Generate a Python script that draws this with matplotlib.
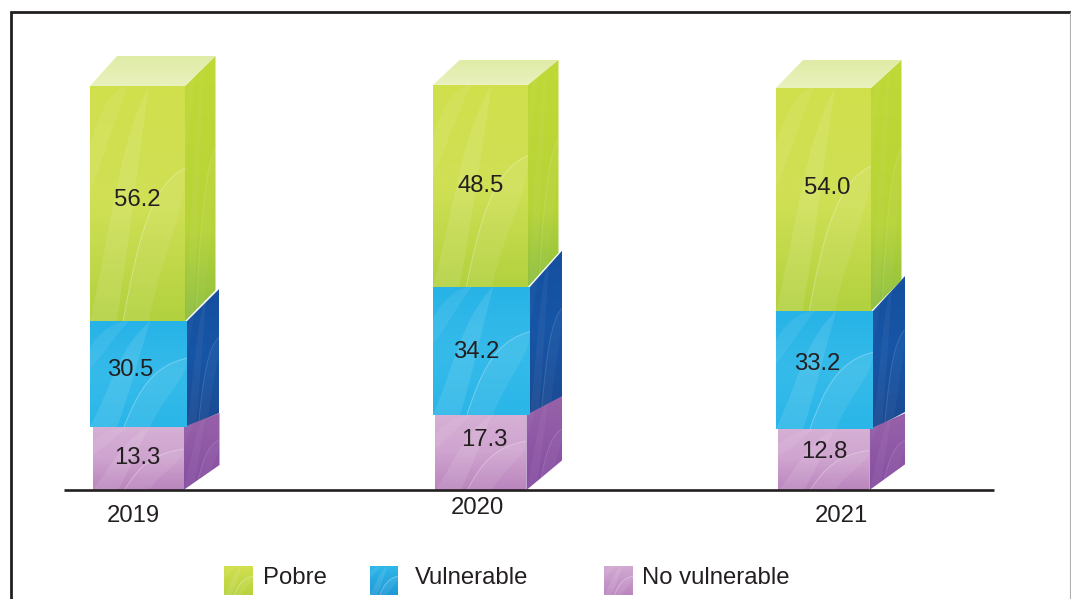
import numpy as np
import matplotlib
matplotlib.use("Agg")
import matplotlib.pyplot as plt
from matplotlib.colors import LinearSegmentedColormap
from matplotlib.patches import Polygon, PathPatch
from matplotlib.path import Path

plt.rcParams['font.family'] = ['Liberation Sans', 'DejaVu Sans']

years = ['2019', '2020', '2021']
series = ['Pobre', 'Vulnerable', 'No vulnerable']
# printed labels
pobre_labels = [56.2, 48.5, 54.0]
vulnerable_labels = [30.5, 34.2, 33.2]
no_vulnerable_labels = [13.3, 17.3, 12.8]
# drawn block heights (the blocks are not to scale with the labels)
pobre_drawn = [58.2, 50.0, 55.2]
vulnerable_drawn = [26.2, 31.7, 29.2]
no_vulnerable_drawn = [15.6, 18.6, 15.1]

# ---- layout (pixels) ----
W, H = 1071, 599
X0, DX = 137.0, 343.0     # pixel of first category, pixels per category
Y0, DY = 490.0, 4.04      # baseline pixel, pixels per unit
FS = 17.2
fig = plt.figure(figsize=(W / 100, H / 100), dpi=100)
ax = fig.add_axes([0, 0, 1, 1])
XLIM = (-X0 / DX, (W - X0) / DX)
YLIM = ((Y0 - H) / DY, Y0 / DY)
ax.axis('off')


def px(x, y):
    return ((x - X0) / DX, (Y0 - y) / DY)


style = {
    'Pobre': dict(shift=0.5, width=95, depth=30.5, dtop=[-30, -25, -28], dbot=[-31, -34, -31],
                  zside=6, zfront=6.5,
                  front=('#d0df4c', '#d0e055', '#b2d13e'),
                  side=('#bfd937', '#bcd636', '#b6d338', '#8dbf40'),
                  top=('#e9f1bd', '#dfeca6')),
    'Vulnerable': dict(shift=1.5, width=97, depth=32, dtop=[-32, -36, -35], dbot=[-14, -12, -17],
                       zside=3, zfront=5.5,
                       front=('#27b3e7', '#35bbea', '#2ab6e8'), side=('#15509f', '#1755a6', '#1b4a92'),
                       top=None),
    'No vulnerable': dict(shift=1.0, width=91, depth=36, dtop=[-14, -19, -16], dbot=[-25, -30, -26],
                          zside=4, zfront=2.5,
                          front=('#d6b0d5', '#cfa4cf', '#ba85be'), side=('#9762a9', '#8f58a6', '#854ea0'),
                          top=None),
}

waves = [
    [(0.0, 1.0), (0.25, 0.55), (0.30, 0.25), (0.62, 0.0), (0.50, 0.35), (0.40, 0.70), (0.28, 1.0)],
    [(0.35, 1.0), (0.50, 0.65), (0.65, 0.42), (1.0, 0.35), (1.0, 0.55), (0.75, 0.72), (0.62, 1.0)],
    [(0.0, 0.45), (0.15, 0.30), (0.25, 0.15), (0.40, 0.0), (0.25, 0.0), (0.10, 0.10), (0.0, 0.25)],
]


def gradient_face(corners, colors, z, swoosh=1.0):
    """Paint a polygon (pixel corners) with a vertical gradient and soft curved highlights."""
    pts = np.array([px(*c) for c in corners])
    poly = Polygon(pts, closed=True, transform=ax.transData, fc='none', ec='none')
    ax.add_patch(poly)
    cmap = LinearSegmentedColormap.from_list('g', colors)
    xs, ys = np.array(corners).T
    l, r, t, b = xs.min(), xs.max(), ys.min(), ys.max()
    (el, et), (er, eb) = px(l, t), px(r, b)
    im = ax.imshow(np.linspace(0, 1, 128)[:, None], cmap=cmap, aspect='auto',
                   extent=(el, er, eb, et), origin='upper', zorder=z, interpolation='bilinear')
    im.set_clip_path(poly)
    if swoosh > 0:
        w, h = r - l, b - t
        for n, (wv, a) in enumerate(zip(waves, (0.10, 0.08, 0.07))):
            P = [px(l + u * w, t + v * h) for u, v in wv]
            verts = [P[0], P[1], P[2], P[3], P[4], P[5], P[6], P[0]]
            codes = [Path.MOVETO] + [Path.CURVE4] * 6 + [Path.CLOSEPOLY]
            patch = PathPatch(Path(verts, codes), fc='white', ec='none', alpha=a * swoosh, zorder=z + 0.1)
            ax.add_patch(patch)
            patch.set_clip_path(poly)
            if n == 1:
                edge = PathPatch(Path(P[:4], [Path.MOVETO] + [Path.CURVE4] * 3), fc='none', ec='white',
                                 lw=0.7, alpha=0.3 * swoosh, zorder=z + 0.2)
                ax.add_patch(edge)
                edge.set_clip_path(poly)


drawn = {'No vulnerable': no_vulnerable_drawn, 'Vulnerable': vulnerable_drawn, 'Pobre': pobre_drawn}
for i in range(len(years)):
    base = 0.0
    for name in ['No vulnerable', 'Vulnerable', 'Pobre']:
        s = style[name]
        val = drawn[name][i]
        cx = X0 + i * DX + s['shift']
        lft, rgt = cx - s['width'] / 2, cx + s['width'] / 2
        bot = Y0 - base * DY
        top = Y0 - (base + val) * DY
        gradient_face([(rgt, top), (rgt + s['depth'], top + s['dtop'][i]),
                       (rgt + s['depth'], bot + s['dbot'][i]), (rgt, bot)], s['side'], s['zside'], swoosh=0.45)
        if s['top']:
            gradient_face([(lft, top), (rgt, top), (rgt + s['depth'], top + s['dtop'][i]),
                           (lft + 27, top + s['dtop'][i])], s['top'][::-1], s['zside'], swoosh=0)
        gradient_face([(lft, top), (rgt, top), (rgt, bot), (lft, bot)], s['front'], s['zfront'])
        base += val

# ---- value labels ----
label_pos = {
    'Pobre': (pobre_labels, [(137, 197), (481, 184), (827, 186)]),
    'Vulnerable': (vulnerable_labels, [(130, 367), (476, 350), (817, 361)]),
    'No vulnerable': (no_vulnerable_labels, [(137, 455), (484, 437), (824, 449)]),
}
TXT = '#231f20'
for name, (vals, pos) in label_pos.items():
    for v, (x, y) in zip(vals, pos):
        ax.text(*px(x, y), f'{v:.1f}', ha='center', va='center_baseline', fontsize=FS, color=TXT, zorder=20)

# ---- category labels ----
for yr, (x, y) in zip(years, [(133, 513), (477, 506), (841, 513)]):
    ax.text(*px(x, y), yr, ha='center', va='center_baseline', fontsize=FS, color=TXT, zorder=20)

# ---- baseline and frame ----
ax.plot(*zip(px(64, 490), px(994, 490)), color=TXT, lw=1.9, solid_capstyle='butt', zorder=15)
ax.plot(*zip(px(11, H), px(11, 11.5), px(W, 11.5)), color=TXT, lw=2.0,
        solid_joinstyle='miter', solid_capstyle='butt', zorder=15)
ax.plot(*zip(px(1070.5, 12), px(1070.5, H)), color='#b0b0b0', lw=0.8, solid_capstyle='butt', zorder=15)

# ---- legend ----
swatches = {'Pobre': 224, 'Vulnerable': 369.5, 'No vulnerable': 604}
text_x = {'Pobre': 263, 'Vulnerable': 415, 'No vulnerable': 642}
legend_cols = {'Pobre': ('#d2e04e', '#b6d23e'), 'Vulnerable': ('#2fb8ea', '#1f98d6'),
               'No vulnerable': ('#d2aad3', '#bb86bf')}
for name in series:
    x = swatches[name]
    gradient_face([(x, 566), (x + 29, 566), (x + 29, 595), (x, 595)], legend_cols[name], 10)
    ax.text(*px(text_x[name], 576), name, ha='left', va='center_baseline', fontsize=FS, color=TXT, zorder=20)

ax.set_xlim(*XLIM)
ax.set_ylim(*YLIM)
fig.savefig('out.png', dpi=100, facecolor='white')
